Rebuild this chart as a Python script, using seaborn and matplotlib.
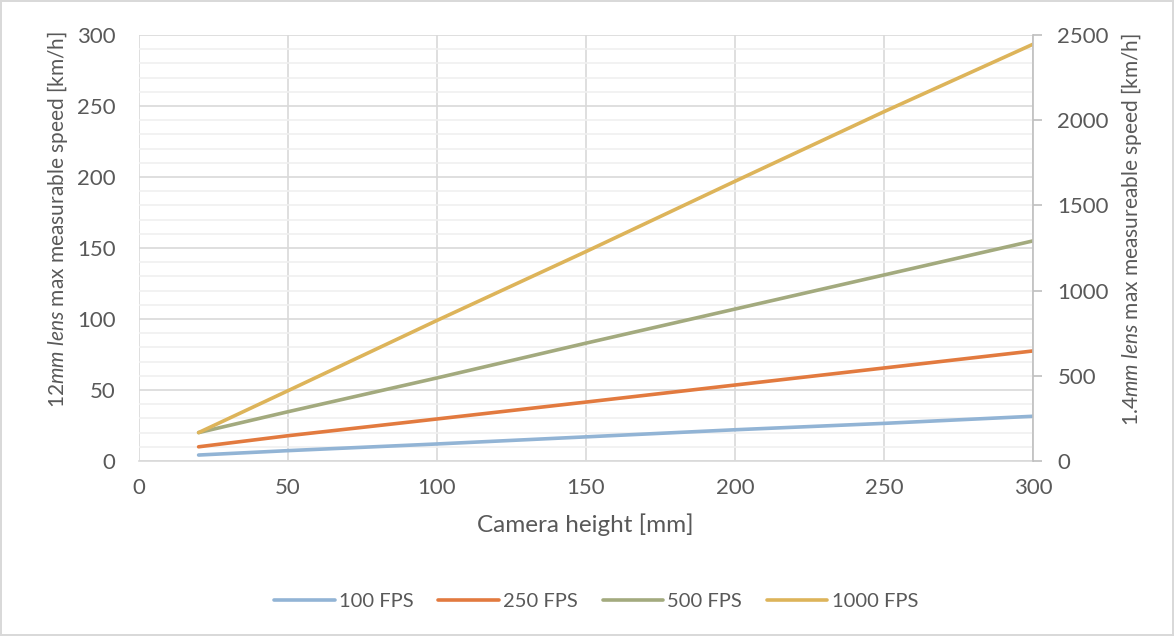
import numpy as np
import pandas as pd
import matplotlib
matplotlib.use("Agg")
import matplotlib.pyplot as plt
import seaborn as sns
from matplotlib.ticker import MultipleLocator

# ─────────────────────────────────────────────
# Data
# ─────────────────────────────────────────────
camera_height = [20, 50, 100, 150, 200, 250, 300]
speed_100fps = [4.2, 7.3, 12.0, 17.0, 22.0, 26.5, 31.5]
speed_250fps = [10.0, 17.8, 29.6, 41.5, 53.5, 65.5, 77.5]
speed_500fps = [20.0, 34.7, 58.5, 83.0, 107.0, 131.0, 155.0]
speed_1000fps = [20.0, 49.5, 99.0, 147.5, 197.0, 246.0, 293.5]
series_labels = ["100 FPS", "250 FPS", "500 FPS", "1000 FPS"]
series_colors = ["#92B4D5", "#E27A3F", "#A3AA7E", "#DDB45A"]

left_ticks = [0, 50, 100, 150, 200, 250, 300]
right_ticks = [0, 500, 1000, 1500, 2000, 2500]
x_ticks = [0, 50, 100, 150, 200, 250, 300]

df = pd.DataFrame({
    "height": camera_height * 4,
    "speed": speed_100fps + speed_250fps + speed_500fps + speed_1000fps,
    "series": np.repeat(series_labels, len(camera_height)),
})

# ─────────────────────────────────────────────
# Style
# ─────────────────────────────────────────────
sns.set_theme(style="white")
plt.rcParams["font.family"] = ["Lato", "DejaVu Sans"]
plt.rcParams["mathtext.fontset"] = "custom"
plt.rcParams["mathtext.it"] = "Lato:italic"
plt.rcParams["mathtext.rm"] = "Lato"

text_color = "#595959"
grid_major = "#D9D9D9"
grid_minor = "#F0F0F0"

W, H = 1174, 636
fig = plt.figure(figsize=(W / 100, H / 100), dpi=100)
fig.patch.set_edgecolor("#D9D9D9")
fig.patch.set_linewidth(1.5)
ax = fig.add_axes([139 / W, 1 - 461 / H, (1033 - 139) / W, (461 - 35) / H])

sns.lineplot(data=df, x="height", y="speed", hue="series",
             hue_order=series_labels, palette=series_colors,
             linewidth=2.6, ax=ax, legend=True)

ax.set_xlim(0, 300)
ax.set_ylim(0, 300)
ax.set_xticks(x_ticks)
ax.set_yticks(left_ticks)
ax.yaxis.set_minor_locator(MultipleLocator(10))
ax.grid(which="major", color=grid_major, linewidth=1.2)
ax.grid(which="minor", axis="y", color=grid_minor, linewidth=1.2)
ax.set_axisbelow(True)
for side in ["top", "left", "right"]:
    ax.spines[side].set_visible(False)
ax.spines["bottom"].set_color(grid_major)
ax.spines["bottom"].set_linewidth(1.2)
ax.tick_params(axis="both", which="both", length=0, labelsize=16,
               colors=text_color)
ax.tick_params(axis="x", pad=12)
ax.tick_params(axis="y", pad=17)
ax.set_xlabel("")
ax.set_ylabel("")

# secondary axis for the 1.4mm lens
ax2 = ax.twinx()
ax2.set_ylim(0, 2500)
ax2.set_yticks(right_ticks)
for side in ["top", "left", "bottom"]:
    ax2.spines[side].set_visible(False)
ax2.spines["right"].set_color("#BFBFBF")
ax2.spines["right"].set_linewidth(1.2)
ax2.tick_params(axis="y", length=6.5, width=1.2, color="#BFBFBF",
                labelsize=16, labelcolor=text_color, pad=11)

# axis titles
fig.text(585 / W, 1 - 525 / H, "Camera height [mm]", ha="center", va="center",
         fontsize=17.5, color=text_color)
fig.text(58 / W, 1 - 219 / H, r"$\it{12mm\ lens}$ max measurable speed [km/h]",
         ha="center", va="center", rotation=90, fontsize=15, color=text_color)
fig.text(1132 / W, 1 - 230 / H, r"$\it{1.4mm\ lens}$ max measureable speed [km/h]",
         ha="center", va="center", rotation=90, fontsize=15, color=text_color)

handles, labels = ax.get_legend_handles_labels()
ax.legend_.remove()
fig.legend(handles, labels, loc="center", bbox_to_anchor=(596 / W, 1 - 601 / H),
           ncol=4, frameon=False, fontsize=14.5, handlelength=3.0,
           handletextpad=0.2, columnspacing=1.25, labelcolor=text_color)

fig.savefig("out.png", dpi=100)
